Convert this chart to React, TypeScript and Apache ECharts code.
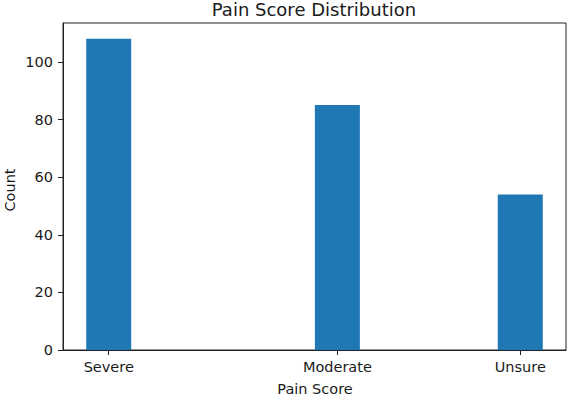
import React, { useEffect, useRef } from "react";
import * as echarts from "echarts";

const categories = ["Severe", "Moderate", "Unsure"];
const positions = [0, 5, 9];
const counts = [108, 85, 54];
const yTicks = [0, 20, 40, 60, 80, 100];
const title = "Pain Score Distribution";
const xName = "Pain Score";
const yName = "Count";

const FONT = "DejaVu Sans";
const TXT = "#1a1a1a";

export default function App() {
  const ref = useRef<HTMLDivElement>(null);
  useEffect(() => {
    if (!ref.current) return;
    const chart = echarts.init(ref.current, undefined, { renderer: "svg" });
    chart.setOption({
      animation: false,
      backgroundColor: "#fff",
      grid: {
        left: 63,
        right: 5,
        top: 23,
        bottom: 60,
        show: true,
        borderColor: "#222",
        borderWidth: 1,
        backgroundColor: "transparent",
      },
      xAxis: {
        type: "value",
        min: -1,
        max: 10,
        splitLine: { show: false },
        axisLine: { show: true, onZero: false, lineStyle: { color: "#222", width: 1 } },
        axisTick: {
          show: true,
          length: 5,
          customValues: positions,
          lineStyle: { color: "#222" },
        },
        axisLabel: {
          customValues: positions,
          formatter: (v: number) => {
            const i = positions.indexOf(v);
            return i >= 0 ? categories[i] : "";
          },
          fontFamily: FONT,
          fontSize: 14.5,
          color: TXT,
          margin: 9,
        },
      },
      yAxis: {
        type: "value",
        min: 0,
        max: 113.5,
        splitLine: { show: false },
        axisLine: { show: true, onZero: false, lineStyle: { color: "#222", width: 1 } },
        axisTick: {
          show: true,
          length: 5,
          customValues: yTicks,
          lineStyle: { color: "#222" },
        },
        axisLabel: {
          customValues: yTicks,
          fontFamily: FONT,
          fontSize: 14.5,
          color: TXT,
          margin: 10,
        },
      },
      series: [
        {
          type: "bar",
          data: positions.map((p, i) => [p, counts[i]]),
          barWidth: 45,
          itemStyle: { color: "#1f77b4" },
        },
      ],
      graphic: [
        {
          type: "text",
          x: 314,
          y: 9,
          style: {
            text: title,
            fontFamily: FONT,
            fontSize: 18,
            fill: TXT,
            align: "center",
            verticalAlign: "middle",
          },
        },
        {
          type: "text",
          x: 315,
          y: 389,
          style: {
            text: xName,
            fontFamily: FONT,
            fontSize: 14.5,
            fill: TXT,
            align: "center",
            verticalAlign: "middle",
          },
        },
        {
          type: "text",
          x: 10,
          y: 190,
          rotation: Math.PI / 2,
          style: {
            text: yName,
            fontFamily: FONT,
            fontSize: 14.5,
            fill: TXT,
            align: "center",
            verticalAlign: "middle",
          },
        },
      ],
    });
    return () => chart.dispose();
  }, []);
  return (
    <div
      ref={ref}
      style={{ position: "fixed", left: 0, top: 0, width: 571, height: 410 }}
    />
  );
}
